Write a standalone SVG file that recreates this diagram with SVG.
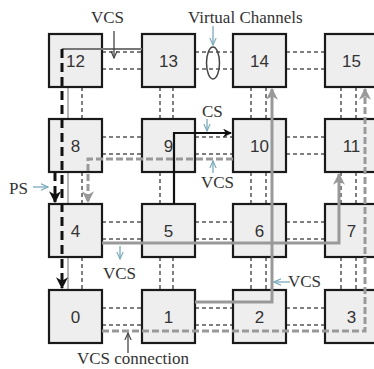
<svg xmlns="http://www.w3.org/2000/svg" width="374" height="369" viewBox="0 0 374 369">
<style>
.box{fill:#eeeeee;stroke:#1a1a1a;stroke-width:2.2}
.num{font-family:"Liberation Sans",Arial,sans-serif;font-size:17px;fill:#333;text-anchor:middle}
.lbl{font-family:"Liberation Serif","Times New Roman",serif;font-size:17px;fill:#333}
.link{fill:none;stroke:#555;stroke-width:1.5;stroke-dasharray:4 3}
.thin{fill:none;stroke:#888;stroke-width:1.2}
.ps{fill:none;stroke:#111;stroke-width:3;stroke-dasharray:9 5}
.cs{fill:none;stroke:#111;stroke-width:2.2}
.vcs{fill:none;stroke:#999;stroke-width:3}
.vcsd{fill:none;stroke:#999;stroke-width:3;stroke-dasharray:7 3}
.teal{fill:none;stroke:#7aaabb;stroke-width:1.3}
.dark{fill:none;stroke:#444;stroke-width:1.3}
</style>
<defs>
<marker id="ab" viewBox="0 0 10 10" refX="9" refY="5" markerWidth="4" markerHeight="4" markerUnits="strokeWidth" orient="auto"><path d="M0,0 L10,5 L0,10 L3,5 Z" fill="#111"/></marker>
<marker id="ag" viewBox="0 0 10 10" refX="9" refY="5" markerWidth="4" markerHeight="4" markerUnits="strokeWidth" orient="auto"><path d="M0,0 L10,5 L0,10 L3,5 Z" fill="#999"/></marker>
<marker id="at" viewBox="0 0 10 10" refX="9" refY="5" markerWidth="6" markerHeight="6" markerUnits="strokeWidth" orient="auto"><path d="M0,1 L9,5 L0,9" fill="none" stroke="#7aaabb" stroke-width="1.5"/></marker>
<marker id="ad" viewBox="0 0 10 10" refX="9" refY="5" markerWidth="6" markerHeight="6" markerUnits="strokeWidth" orient="auto"><path d="M0,1 L9,5 L0,9" fill="none" stroke="#444" stroke-width="1.5"/></marker>
</defs>
<rect width="374" height="369" fill="#ffffff"/>
<g id="links">
<path class="link" d="M102,52H142M195,52H233M286,52H325M102,69H142M195,69H233M286,69H325"/>
<path class="link" d="M102,137H142M195,137H233M286,137H325M102,154H142M195,154H233M286,154H325"/>
<path class="link" d="M102,222H142M195,222H233M286,222H325M102,239H142M195,239H233M286,239H325"/>
<path class="link" d="M102,308H142M195,308H233M286,308H325M102,325H142M195,325H233M286,325H325"/>
<path class="thin" d="M68,87V119M68,172V204M68,257V290"/>
<path class="link" d="M82,87V119M82,172V204M82,257V290"/>
<path class="link" d="M160,87V119M160,172V204M160,257V290M173,87V119M173,257V290"/>
<path class="link" d="M251,87V119M251,172V204M251,257V290M266,87V119M266,172V204M266,257V290"/>
<path class="link" d="M341,87V119M341,172V204M341,257V290M356,87V119M356,172V204M356,257V290"/>
</g>
<g id="node-12"><rect class="box" x="49" y="34" width="53" height="53"/><text class="num" x="75.5" y="67">12</text></g>
<g id="node-13"><rect class="box" x="142" y="34" width="53" height="53"/><text class="num" x="168.5" y="67">13</text></g>
<g id="node-14"><rect class="box" x="233" y="34" width="53" height="53"/><text class="num" x="259.5" y="67">14</text></g>
<g id="node-15"><rect class="box" x="325" y="34" width="53" height="53"/><text class="num" x="351.5" y="67">15</text></g>
<g id="node-8"><rect class="box" x="49" y="119" width="53" height="53"/><text class="num" x="75.5" y="152">8</text></g>
<g id="node-9"><rect class="box" x="142" y="119" width="53" height="53"/><text class="num" x="168.5" y="152">9</text></g>
<g id="node-10"><rect class="box" x="233" y="119" width="53" height="53"/><text class="num" x="259.5" y="152">10</text></g>
<g id="node-11"><rect class="box" x="325" y="119" width="53" height="53"/><text class="num" x="351.5" y="152">11</text></g>
<g id="node-4"><rect class="box" x="49" y="204" width="53" height="53"/><text class="num" x="75.5" y="237">4</text></g>
<g id="node-5"><rect class="box" x="142" y="204" width="53" height="53"/><text class="num" x="168.5" y="237">5</text></g>
<g id="node-6"><rect class="box" x="233" y="204" width="53" height="53"/><text class="num" x="259.5" y="237">6</text></g>
<g id="node-7"><rect class="box" x="325" y="204" width="53" height="53"/><text class="num" x="351.5" y="237">7</text></g>
<g id="node-0"><rect class="box" x="49" y="290" width="53" height="53"/><text class="num" x="75.5" y="323">0</text></g>
<g id="node-1"><rect class="box" x="142" y="290" width="53" height="53"/><text class="num" x="168.5" y="323">1</text></g>
<g id="node-2"><rect class="box" x="233" y="290" width="53" height="53"/><text class="num" x="259.5" y="323">2</text></g>
<g id="node-3"><rect class="box" x="325" y="290" width="53" height="53"/><text class="num" x="351.5" y="323">3</text></g>
<g id="connectors">
<path d="M62,49H142" fill="none" stroke="#777" stroke-width="2"/>
<path class="vcsd" d="M233,159H88V202" marker-end="url(#ag)"/>
<path class="vcs" d="M102,243H339V174" marker-end="url(#ag)"/>
<path class="vcs" d="M195,302H272V89" stroke-width="2.5" marker-end="url(#ag)"/>
<path class="vcsd" d="M102,331H365V89" marker-end="url(#ag)"/>
<path class="ps" d="M62,49V288" marker-end="url(#ab)"/>
<path class="ps" d="M55,172V202" marker-end="url(#ab)"/>
<path class="cs" d="M174,204V133H231" marker-end="url(#ab)"/>
<ellipse cx="213" cy="63" rx="6.5" ry="16" fill="none" stroke="#444" stroke-width="1.5"/>
</g>
<g id="labels">
<text class="lbl" x="91" y="23">VCS</text>
<path class="dark" d="M114,31V58" marker-end="url(#ad)"/>
<text class="lbl" x="188" y="23">Virtual Channels</text>
<path class="teal" d="M213,26V45" marker-end="url(#at)"/>
<text class="lbl" x="202" y="117">CS</text>
<path class="teal" d="M207,119V131" marker-end="url(#at)"/>
<text class="lbl" x="201" y="188">VCS</text>
<path class="teal" d="M213,173V161" marker-end="url(#at)"/>
<text class="lbl" x="9" y="194">PS</text>
<path class="teal" d="M33,187H48" marker-end="url(#at)"/>
<text class="lbl" x="103" y="279">VCS</text>
<path class="teal" d="M120,246V259" marker-end="url(#at)"/>
<text class="lbl" x="288" y="287">VCS</text>
<path class="teal" d="M290,282H274" marker-end="url(#at)"/>
<text class="lbl" x="77" y="364" font-size="16">VCS connection</text>
<path class="dark" d="M128,353V333" marker-end="url(#ad)"/>
</g>
</svg>
